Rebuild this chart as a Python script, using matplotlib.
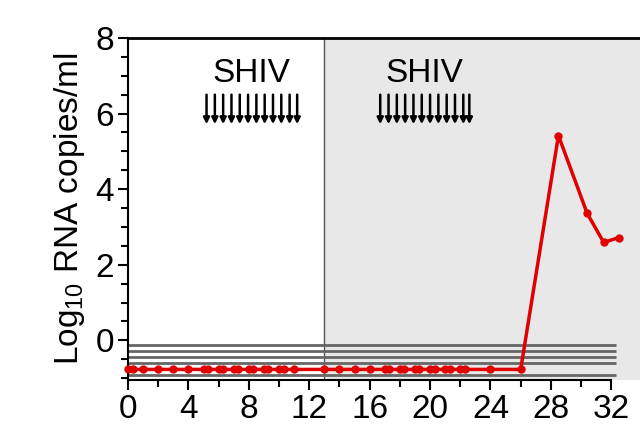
import numpy as np
import matplotlib
matplotlib.use('Agg')
import matplotlib.pyplot as plt
from matplotlib.ticker import MultipleLocator

plt.rcParams['font.family'] = ['Liberation Sans', 'DejaVu Sans']
plt.rcParams['mathtext.default'] = 'regular'

# viral load (weeks, log10 copies/ml)
weeks = [0, 0.3, 1, 2, 3, 4, 5, 5.3, 6, 6.3, 7, 7.3, 8, 8.3, 9, 9.3, 10, 10.3, 11,
         13, 14, 15, 16, 17, 17.3, 18, 18.3, 19, 19.3, 20, 20.3, 21, 21.3, 22, 22.3,
         24, 26, 28.5, 30.4, 31.5, 32.5]
viral_load = [-0.77] * 37 + [5.42, 3.36, 2.59, 2.72]

# detection limit lines
limits = [-0.13, -0.28, -0.44, -0.59, -0.91]

# SHIV challenge times
challenge1 = [5.2, 5.75, 6.3, 6.85, 7.4, 7.95, 8.5, 9.05, 9.6, 10.15, 10.7, 11.2]
challenge2 = [16.7, 17.25, 17.8, 18.35, 18.9, 19.45, 20.0, 20.55, 21.1, 21.65, 22.2, 22.6]

fig = plt.figure(figsize=(6.4, 4.3), dpi=100)
ax = fig.add_axes([0.2, 0.1163, 0.8, 0.7953])

ax.axvspan(13, 34, color='#e8e8e8', zorder=0, lw=0)
ax.axvline(13, color='#555555', lw=1.0, zorder=1)

for lim in limits:
    ax.plot([0, 32.3], [lim, lim], color='#666666', lw=2, zorder=2, solid_capstyle='butt')

ax.plot(weeks, viral_load, color='#e00000', lw=2.5, marker='o', markersize=5, zorder=3,
        clip_on=False)

for grp, xc in [(challenge1, 8.2), (challenge2, 19.65)]:
    for x in grp:
        ax.annotate('', xy=(x, 5.72), xytext=(x, 6.5),
                    arrowprops=dict(arrowstyle='-|>', lw=1.8, color='black',
                                    mutation_scale=9, shrinkA=0, shrinkB=0))
    ax.text(xc, 7.05, 'SHIV', fontsize=24, ha='center', va='center')

ax.set_xlim(0, 33.9)
ax.set_ylim(-1.05, 8)
ax.spines['right'].set_visible(False)
ax.spines['bottom'].set_bounds(0, 32)
ax.spines['top'].set_linewidth(2)
ax.spines['left'].set_linewidth(1.5)
ax.spines['bottom'].set_linewidth(1.5)

ax.set_xticks(np.arange(0, 33, 4))
ax.xaxis.set_minor_locator(MultipleLocator(2))
ax.set_yticks([0, 2, 4, 6, 8])
ax.yaxis.set_minor_locator(MultipleLocator(0.5))
ax.tick_params(which='major', length=7, width=1.5, labelsize=24, pad=3)
ax.tick_params(which='minor', length=5, width=1.5)
ax.tick_params(axis='x', which='minor', bottom=True)
ax.set_ylabel('Log$_{10}$ RNA copies/ml', fontsize=24, labelpad=6)

fig.savefig('out.png', dpi=100)
